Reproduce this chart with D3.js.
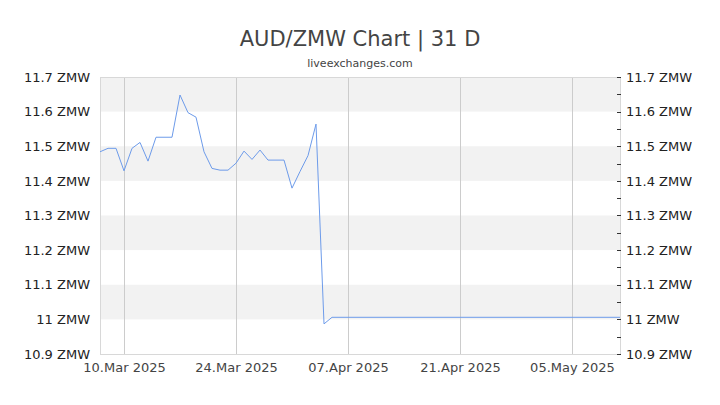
<!DOCTYPE html>
<html>
<head>
<meta charset="utf-8">
<script src="https://cdn.jsdelivr.net/npm/d3@7"></script>
<style>
  body { margin: 0; background: white; font-family: "DejaVu Sans", sans-serif; }
</style>
</head>
<body>
<svg id="mainSvg" width="720" height="405"></svg>
<script>
// data
var dates = ["2025-03-07","2025-03-08","2025-03-09","2025-03-10","2025-03-11","2025-03-12","2025-03-13",
             "2025-03-14","2025-03-15","2025-03-16","2025-03-17","2025-03-18","2025-03-19","2025-03-20",
             "2025-03-21","2025-03-22","2025-03-23","2025-03-24","2025-03-25","2025-03-26","2025-03-27",
             "2025-03-28","2025-03-29","2025-03-30","2025-03-31","2025-04-01","2025-04-02","2025-04-03",
             "2025-04-04","2025-04-05","2025-05-11"];
var rates = [11.484, 11.494, 11.494, 11.429, 11.494, 11.511, 11.457,
             11.526, 11.526, 11.526, 11.648, 11.597, 11.584, 11.484,
             11.436, 11.431, 11.431, 11.451, 11.486, 11.462, 11.489,
             11.460, 11.460, 11.460, 11.379, 11.427, 11.473, 11.564,
             10.987, 11.006, 11.006];
var yTicks = [10.9, 11.0, 11.1, 11.2, 11.3, 11.4, 11.5, 11.6, 11.7];
var xTicks = ["2025-03-10","2025-03-24","2025-04-07","2025-04-21","2025-05-05"];

var lineColor = "#6d9bea";
var gridColor = "#cccccc";
var bandColor = "#f2f2f2";

window.addEventListener("load", drawChart);

function drawChart()
{
    const svg = d3.select("#mainSvg");
    const margin = {top: 77, bottom: 51, left: 100, right: 100};
    const width = +svg.attr("width"), height = +svg.attr("height");
    const innerWidth = width - margin.left - margin.right;
    const innerHeight = height - margin.top - margin.bottom;
    const parse = d3.utcParse("%Y-%m-%d");
    const data = dates.map((d, i) => ({date: parse(d), value: rates[i]}));

    const xScale = d3.scaleUtc()
        .domain([parse("2025-03-07"), parse("2025-05-11")])
        .range([0, innerWidth]);
    const yScale = d3.scaleLinear().domain([10.9, 11.7]).range([innerHeight, 0]);

    // title
    svg.append("text").text("AUD/ZMW Chart | 31 D")
        .attr("x", width / 2).attr("y", 46)
        .attr("text-anchor", "middle")
        .attr("font-size", 21).attr("fill", "#444");
    svg.append("text").text("liveexchanges.com")
        .attr("x", width / 2).attr("y", 67)
        .attr("text-anchor", "middle")
        .attr("font-size", 11).attr("fill", "#444");

    const g = svg.append("g").attr("transform", `translate(${margin.left}, ${margin.top})`);

    // alternating bands
    const bands = [];
    for (let i = 0; i < yTicks.length - 1; i++) if (i % 2 === 1) bands.push([yTicks[i], yTicks[i + 1]]);
    g.selectAll(".band").data(bands).join("rect")
        .attr("x", 0).attr("width", innerWidth)
        .attr("y", d => yScale(d[1]))
        .attr("height", d => yScale(d[0]) - yScale(d[1]))
        .attr("fill", bandColor);

    // vertical grid
    g.selectAll(".vgrid").data(xTicks).join("line")
        .attr("x1", d => xScale(parse(d)) + 0.5).attr("x2", d => xScale(parse(d)) + 0.5)
        .attr("y1", 0).attr("y2", innerHeight)
        .attr("stroke", gridColor);

    // frame
    g.append("rect").attr("x", 0.5).attr("y", 0.5)
        .attr("width", innerWidth).attr("height", innerHeight)
        .attr("fill", "none").attr("stroke", "#d8d8d8");

    // line
    const line = d3.line().x(d => xScale(d.date)).y(d => yScale(d.value));
    g.append("path").datum(data)
        .attr("d", line)
        .attr("fill", "none")
        .attr("stroke", lineColor)
        .attr("stroke-width", 1);

    // left axis
    const fmt = v => `${d3.format("~g")(+v.toFixed(1))} ZMW`;
    const yAxisLeft = d3.axisLeft(yScale).tickValues(yTicks).tickSize(0).tickPadding(10).tickFormat(fmt);
    const leftGroup = g.append("g").call(yAxisLeft);
    leftGroup.select(".domain").remove();
    leftGroup.selectAll("text").attr("font-size", 13).attr("fill", "#222")
        .attr("font-family", "DejaVu Sans");

    // right axis, small ticks every 0.05
    const minor = d3.range(0, 17).map(i => 10.9 + i * 0.05);
    const rightTicks = g.append("g").attr("transform", `translate(${innerWidth}, 0)`);
    rightTicks.selectAll("line").data(minor).join("line")
        .attr("x1", -3).attr("x2", 1)
        .attr("y1", d => Math.round(yScale(d)) + 0.5).attr("y2", d => Math.round(yScale(d)) + 0.5)
        .attr("stroke", "#333");
    const yAxisRight = d3.axisRight(yScale).tickValues(yTicks).tickSize(0).tickPadding(6).tickFormat(fmt);
    const rightGroup = g.append("g").attr("transform", `translate(${innerWidth}, 0)`).call(yAxisRight);
    rightGroup.select(".domain").remove();
    rightGroup.selectAll("text").attr("font-size", 13).attr("fill", "#222")
        .attr("font-family", "DejaVu Sans");

    // x axis
    const xAxis = d3.axisBottom(xScale).tickValues(xTicks.map(parse)).tickSize(0).tickPadding(9)
        .tickFormat(d3.utcFormat("%d.%b %Y"));
    const xGroup = g.append("g").attr("transform", `translate(0, ${innerHeight})`).call(xAxis);
    xGroup.select(".domain").remove();
    xGroup.selectAll("text").attr("font-size", 13).attr("fill", "#444")
        .attr("font-family", "DejaVu Sans");
}
</script>
</body>
</html>
